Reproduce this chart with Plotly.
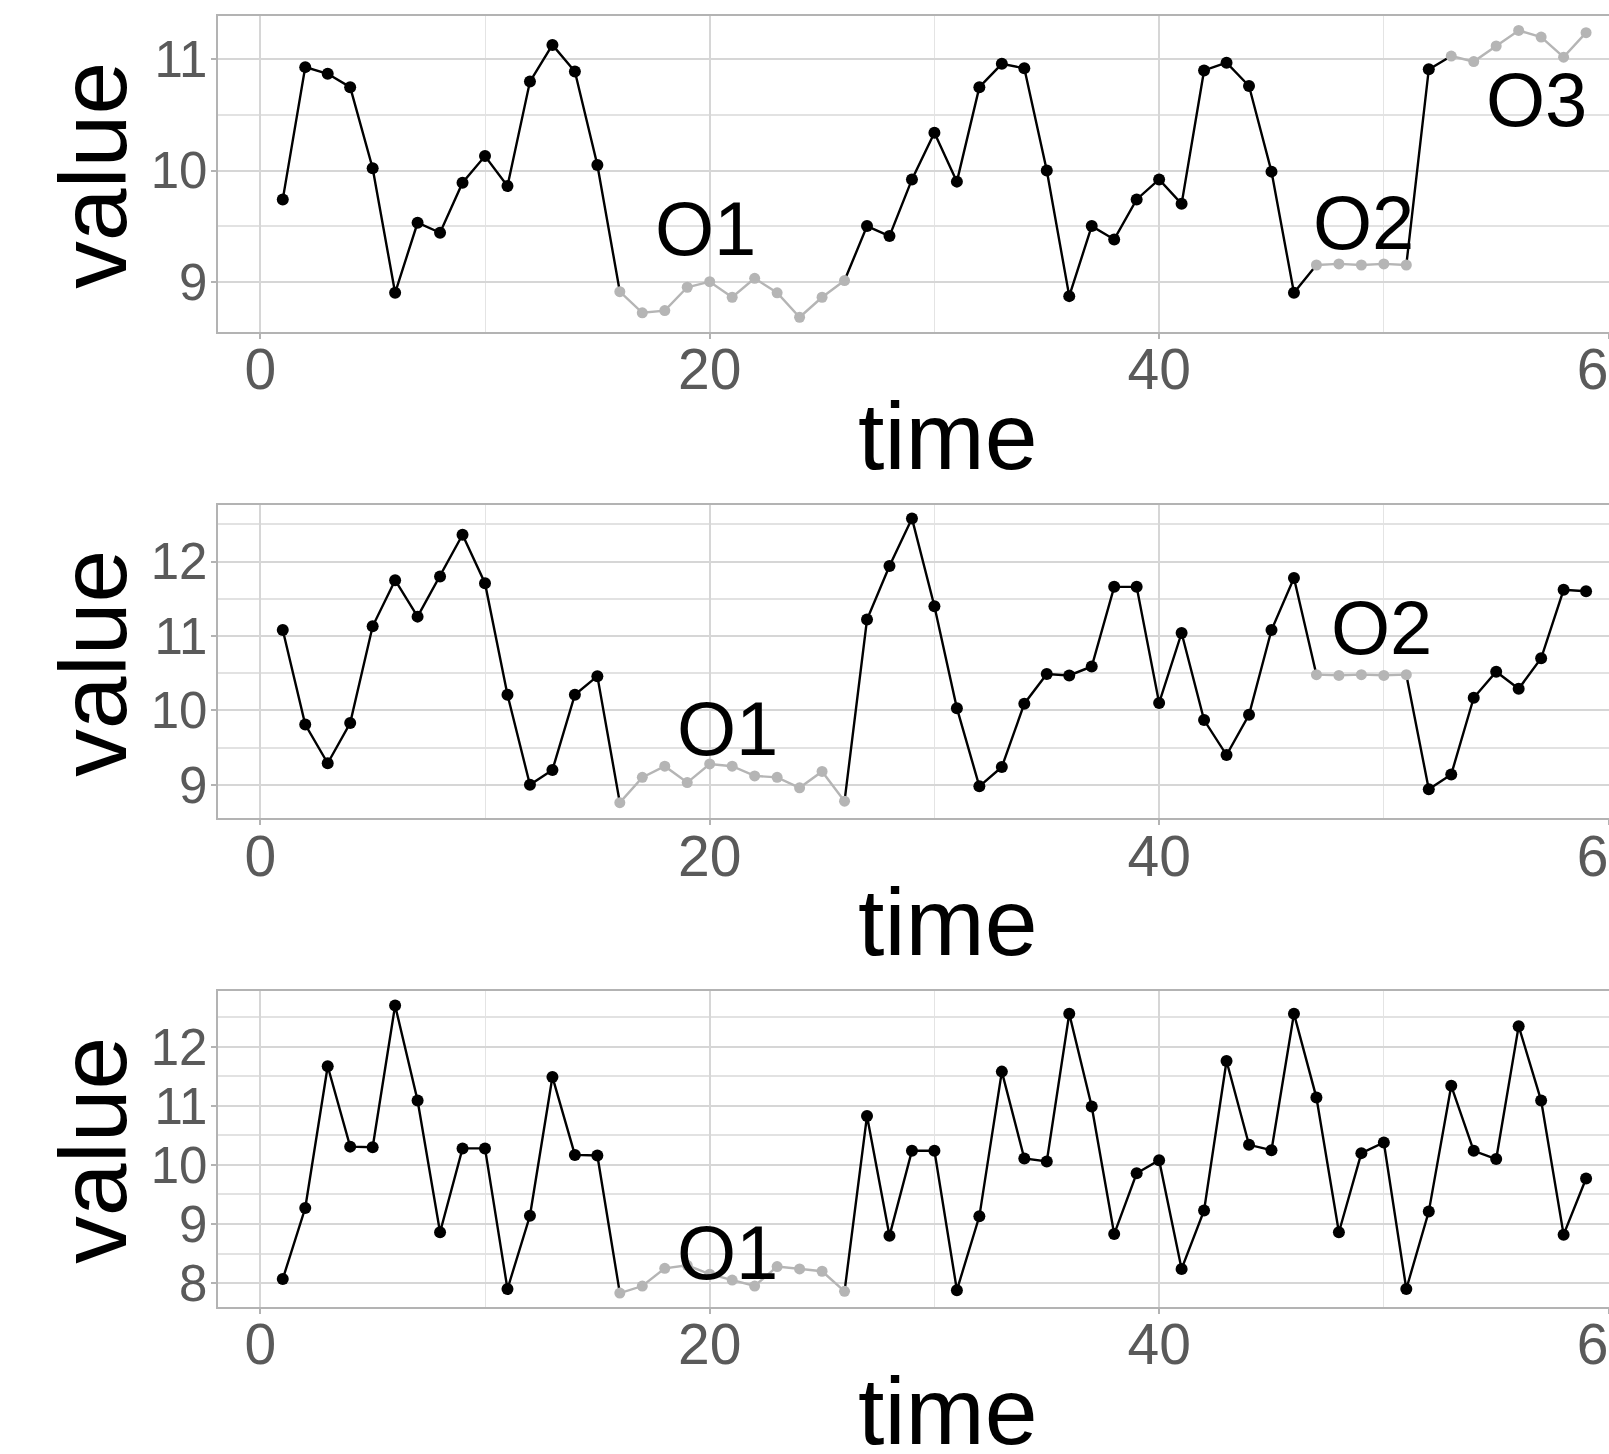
import plotly.graph_objects as go

# ---------------- data ----------------
time = list(range(1, 60))

value_1 = [9.74, 10.93, 10.87, 10.75, 10.02, 8.90, 9.53, 9.44, 9.89, 10.13,
           9.86, 10.80, 11.13, 10.89, 10.05, 8.91, 8.72, 8.74, 8.95, 9.00,
           8.86, 9.03, 8.90, 8.68, 8.86, 9.01, 9.50, 9.41, 9.92, 10.34,
           9.90, 10.75, 10.96, 10.92, 10.00, 8.87, 9.50, 9.38, 9.74, 9.92,
           9.70, 10.90, 10.97, 10.76, 9.99, 8.90, 9.15, 9.16, 9.15, 9.16,
           9.15, 10.91, 11.03, 10.98, 11.12, 11.26, 11.20, 11.02, 11.24]

value_2 = [11.08, 9.81, 9.29, 9.83, 11.13, 11.75, 11.26, 11.80, 12.36, 11.71,
           10.21, 9.00, 9.20, 10.21, 10.46, 8.76, 9.10, 9.25, 9.03, 9.28,
           9.25, 9.12, 9.10, 8.96, 9.18, 8.78, 11.22, 11.94, 12.58, 11.40,
           10.03, 8.98, 9.24, 10.09, 10.49, 10.47, 10.59, 11.66, 11.66, 10.10,
           11.04, 9.87, 9.40, 9.94, 11.08, 11.78, 10.48, 10.47, 10.48, 10.47,
           10.48, 8.94, 9.14, 10.17, 10.52, 10.29, 10.70, 11.62, 11.60]

value_3 = [8.07, 9.27, 11.67, 10.31, 10.30, 12.70, 11.09, 8.86, 10.28, 10.28,
           7.90, 9.14, 11.49, 10.17, 10.16, 7.83, 7.95, 8.25, 8.30, 8.15,
           8.05, 7.95, 8.28, 8.24, 8.20, 7.86, 10.83, 8.80, 10.24, 10.24,
           7.88, 9.13, 11.58, 10.11, 10.06, 12.56, 10.99, 8.83, 9.86, 10.08,
           8.24, 9.23, 11.76, 10.34, 10.25, 12.56, 11.14, 8.86, 10.20, 10.38,
           7.90, 9.21, 11.34, 10.24, 10.10, 12.35, 11.09, 8.82, 9.77]

# outlier periods: (first time, last time)
outliers_1 = [(16, 26), (47, 51), (53, 59)]
outliers_2 = [(16, 26), (47, 51)]
outliers_3 = [(16, 26)]

# outlier labels: text, time, value
labels_1 = [("O1", 19.8, 9.48), ("O2", 49.1, 9.53), ("O3", 56.8, 10.64)]
labels_2 = [("O1", 20.8, 9.76), ("O2", 49.9, 11.11)]
labels_3 = [("O1", 20.8, 8.52)]

y_ranges = [[8.55, 11.39], [8.55, 12.76], [7.6, 12.95]]
x_range = [-1.9, 60.02]

# ---------------- style ----------------
W, H = 1609, 1454
FONT = "Liberation Sans, Arial, Helvetica, sans-serif"
BLACK = "#000000"
GREY = "#b5b5b5"
panel_px = [(16, 331.7), (505, 818.3), (990.7, 1306.7)]  # top, bottom in pixels
x_dom = [217.6 / W, 1.0]

fig = go.Figure()

panels = [(value_1, outliers_1, labels_1),
          (value_2, outliers_2, labels_2),
          (value_3, outliers_3, labels_3)]

for i, (vals, outs, labs) in enumerate(panels):
    n = i + 1
    xa = "x" if n == 1 else f"x{n}"
    ya = "y" if n == 1 else f"y{n}"

    interior = set()
    in_out = set()
    for a, b in outs:
        for t in range(a, b + 1):
            in_out.add(t)
            if a < t < b:
                interior.add(t)
    line_vals = [None if t in interior else v for t, v in zip(time, vals)]
    # black line (connects normal points and the ends of outlier periods)
    line_x, line_y = [], []
    for t, v in zip(time, line_vals):
        line_x.append(t)
        line_y.append(v)
        for a, b in outs:
            if t == a and b > a:
                line_x.append(None)
                line_y.append(None)
    fig.add_trace(go.Scatter(x=line_x, y=line_y, mode="lines",
                             line=dict(color=BLACK, width=2.4),
                             xaxis=xa, yaxis=ya, showlegend=False,
                             hoverinfo="skip", connectgaps=False))
    # grey outlier segments
    for a, b in outs:
        ts = [t for t in time if a <= t <= b]
        vs = [v for t, v in zip(time, vals) if a <= t <= b]
        fig.add_trace(go.Scatter(x=ts, y=vs, mode="lines+markers",
                                 line=dict(color=GREY, width=2.4),
                                 marker=dict(color=GREY, size=11),
                                 xaxis=xa, yaxis=ya, showlegend=False))
    # black points
    bt = [t for t in time if t not in in_out]
    bv = [v for t, v in zip(time, vals) if t not in in_out]
    fig.add_trace(go.Scatter(x=bt, y=bv, mode="markers",
                             marker=dict(color=BLACK, size=12),
                             xaxis=xa, yaxis=ya, showlegend=False))
    # outlier labels
    for txt, lx, ly in labs:
        fig.add_annotation(x=lx, y=ly, xref=xa, yref=ya, text=txt,
                           showarrow=False, xanchor="center", yanchor="middle",
                           font=dict(family=FONT, size=76, color=BLACK))

    top, bot = panel_px[i]
    y_dom = [1 - bot / H, 1 - top / H]
    axis_common = dict(showline=True, mirror=True, linecolor="#b3b3b3",
                       linewidth=2, zeroline=False, ticks="outside",
                       ticklen=5, tickwidth=1.5, tickcolor="#b3b3b3",
                       automargin=False,
                       gridcolor="#d6d6d6", gridwidth=1.6)
    fig.update_layout({
        ("xaxis" if n == 1 else f"xaxis{n}"): dict(
            axis_common, domain=x_dom, anchor=ya, range=x_range,
            tick0=0, dtick=20, ticklabeloverflow="allow",
            ticklabelstandoff=-18,
            tickfont=dict(family=FONT, size=57, color="#5a5a5a"),
            minor=dict(tick0=0, dtick=10, showgrid=True, gridcolor="#e4e4e4",
                       gridwidth=1.2, ticks="")),
        ("yaxis" if n == 1 else f"yaxis{n}"): dict(
            axis_common, domain=y_dom, anchor=xa, range=y_ranges[i],
            tick0=0, dtick=1, ticklabelstandoff=-7,
            tickfont=dict(family=FONT, size=51, color="#5a5a5a"),
            minor=dict(tick0=0, dtick=0.5, showgrid=True, gridcolor="#e2e2e2",
                       gridwidth=1.6, ticks="")),
    })
    # axis titles
    fig.add_annotation(x=947 / W, y=1 - (bot + 104) / H, xref="paper", yref="paper",
                       text="time", showarrow=False, xanchor="center",
                       yanchor="middle",
                       font=dict(family=FONT, size=95, color=BLACK))
    fig.add_annotation(x=93 / W, y=1 - ((top + bot) / 2 + 2) / H, xref="paper",
                       yref="paper", text="value", showarrow=False,
                       textangle=-90, xanchor="center", yanchor="middle",
                       font=dict(family=FONT, size=95, color=BLACK))

fig.update_layout(width=W, height=H, autosize=False,
                  margin=dict(l=0, r=0, t=0, b=0, pad=0, autoexpand=False),
                  paper_bgcolor="white", plot_bgcolor="white",
                  font=dict(family=FONT))

fig.write_html("out.html")
